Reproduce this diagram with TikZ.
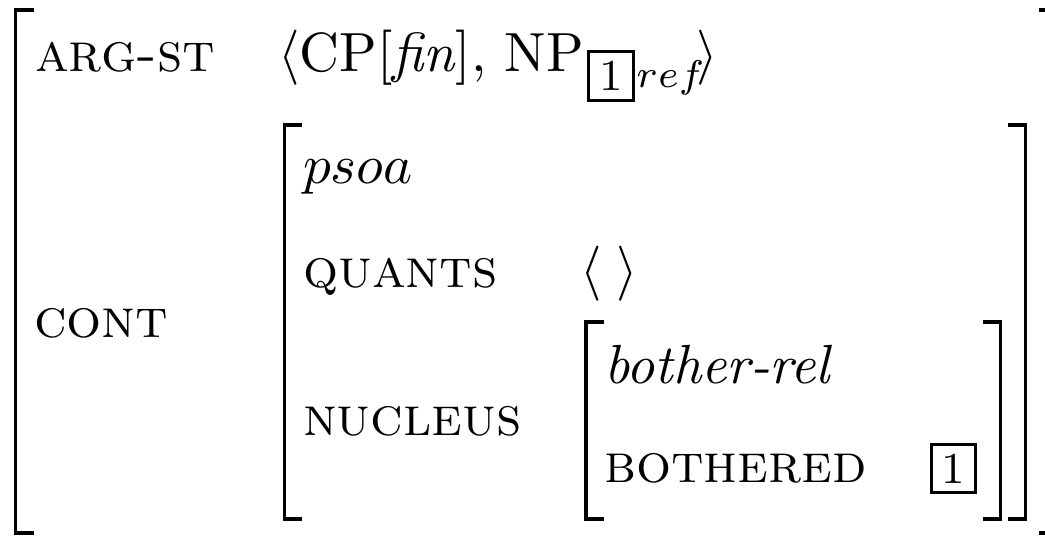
\documentclass[tikz,border=0pt]{standalone}
\usepackage{amsmath,amssymb}
\usepackage{tikz}
\tikzset{
  feat/.style={anchor=base west,inner sep=0pt},
  brack/.style={line width=0.6pt,line join=miter,line cap=rect},
  tagbox/.style={draw,line width=0.5pt,inner sep=0pt,minimum width=7.9pt,minimum height=8.6pt,font=\footnotesize},
}

\begin{document}
\begin{tikzpicture}[x=0.1812pt,y=-0.1812pt]
\useasboundingbox (0,0) rectangle (1045,535);
% outer matrix
\draw[brack] (32,10) -- (15.5,10) -- (15.5,533) -- (32,533);
\draw[brack] (1041,10) -- (1057,10) -- (1057,533) -- (1041,533);
\node[feat] (argst) at (34,71) {\textsc{arg-st}};
\node[feat] (argval) at (277,71) {$\langle$CP[\textit{fin}], NP};
\node[tagbox,minimum width=8.2pt,minimum height=8.8pt] (tagi) at (611,76) {1};
\node[feat,font=\scriptsize] (ref) at (635,87) {$ref$};
\node[feat] (argend) at (695,71) {$\rangle$};
\node[feat] (cont) at (33,337) {\textsc{cont}};
% psoa matrix
\draw[brack] (300,125) -- (284.5,125) -- (284.5,519) -- (300,519);
\draw[brack] (1010,125) -- (1025.5,125) -- (1025.5,519) -- (1010,519);
\node[feat] (psoa) at (302,183) {$psoa$};
\node[feat] (quants) at (302,287) {\textsc{quants}};
\node[feat] (qval) at (579,287) {$\langle\;\rangle$};
\node[feat] (nucleus) at (302,435) {\textsc{nucleus}};
% nucleus matrix
\draw[brack] (602,322) -- (586,322) -- (586,519) -- (602,519);
\draw[brack] (985,322) -- (1000.5,322) -- (1000.5,519) -- (985,519);
\node[feat] (rel) at (603,383) {\textit{bother-rel}};
\node[feat] (bothered) at (603,482) {\textsc{bothered}};
\node[tagbox] (tagii) at (953.5,468.5) {1};
\end{tikzpicture}
\end{document}
